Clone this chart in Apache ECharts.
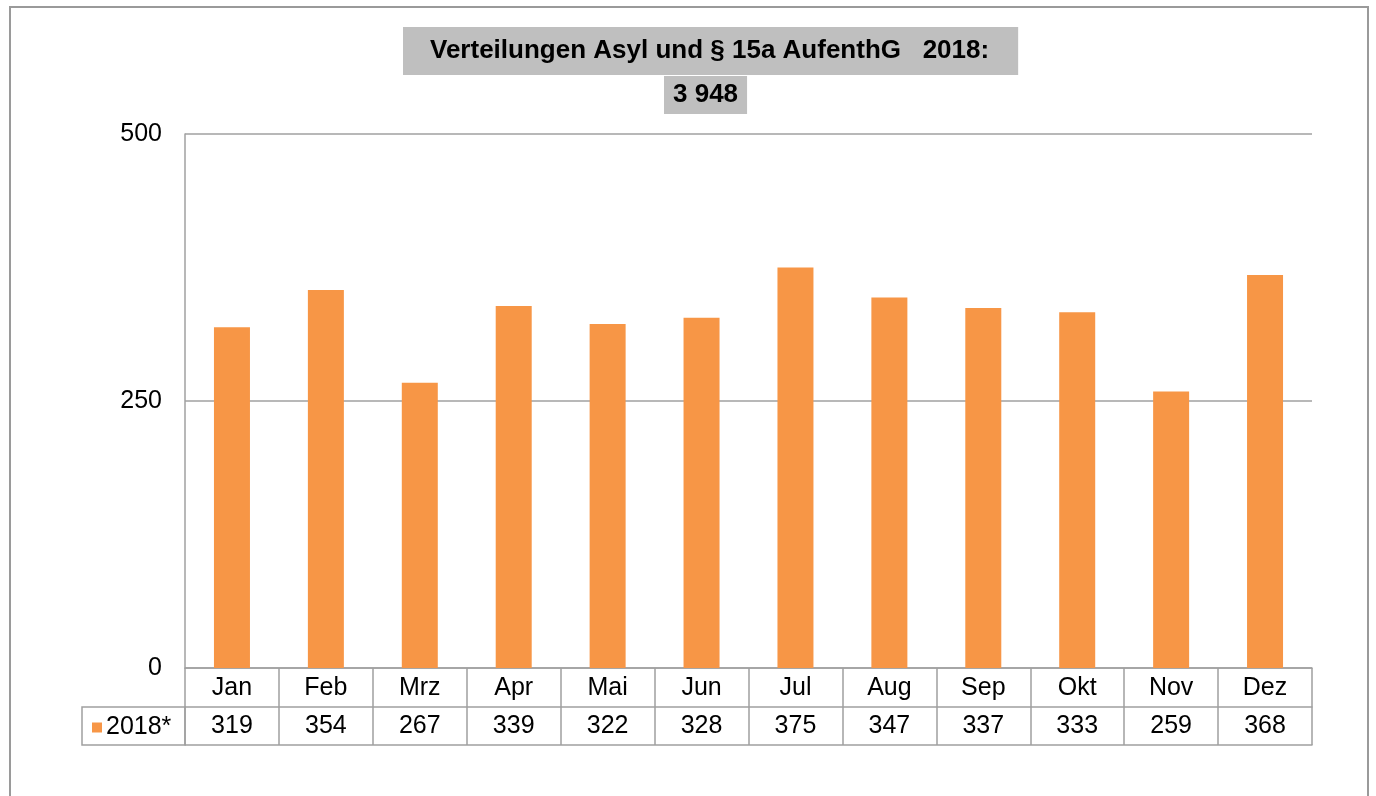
<!DOCTYPE html>
<html>
<head>
<meta charset="utf-8">
<script src="https://cdn.jsdelivr.net/npm/echarts@6/dist/echarts.min.js"></script>
<style>
html,body{margin:0;padding:0;background:#fff;}
#frame{position:absolute;left:9px;top:6px;width:1360px;height:820px;border:2px solid #9a9a9a;box-sizing:border-box;}
#chart{position:absolute;left:0;top:0;width:1376px;height:796px;}
</style>
</head>
<body>
<div id="frame"></div>
<div id="chart"></div>
<script>
const categories = ['Jan','Feb','Mrz','Apr','Mai','Jun','Jul','Aug','Sep','Okt','Nov','Dez'];
const values2018 = [319,354,267,339,322,328,375,347,337,333,259,368];
const seriesName = '2018*';
const titleLine1 = 'Verteilungen Asyl und § 15a AufenthG   2018:';
const titleLine2 = '3 948';
const yTicks = [0,250,500];

const FONT = "'Liberation Sans', Arial, sans-serif";
const LINE = '#A0A0A0';
const chart = echarts.init(document.getElementById('chart'), null, {renderer:'canvas'});

chart.setOption({
  backgroundColor: 'transparent',
  animation: false,
  textStyle: {fontFamily: FONT},
  title: [
    {text: titleLine1, left: 403, top: 27, padding: [11, 29, 11, 27], backgroundColor: '#BFBFBF',
     textStyle: {fontFamily: FONT, fontSize: 26, fontWeight: 'bold', color: '#000', lineHeight: 26}},
    {text: titleLine2, left: 664, top: 76, padding: [6, 9, 6, 9], backgroundColor: '#BFBFBF',
     textStyle: {fontFamily: FONT, fontSize: 26, fontWeight: 'bold', color: '#000', lineHeight: 26}}
  ],
  legend: {
    data: [seriesName], left: 87, top: 710, itemWidth: 10, itemHeight: 10, itemGap: 5,
    icon: 'rect', textStyle: {fontFamily: FONT, fontSize: 25, color: '#000', padding: [0,0,0,-1]}
  },
  grid: [
    {left: 185, right: 64, top: 134, bottom: 128},
    {left: 82, top: 707, width: 103, height: 38, show: true, borderColor: LINE, borderWidth: 1.5, backgroundColor: 'transparent'}
  ],
  xAxis: [
    {type: 'category', data: categories, gridIndex: 0,
     axisLine: {lineStyle: {color: LINE, width: 1.5}},
     axisTick: {show: true, interval: 0, length: 77, lineStyle: {color: LINE, width: 1.5}},
     axisLabel: {interval: 0, margin: 1,
       formatter: function (v, i) { return '{m|' + v + '}\n{v|' + values2018[i] + '}'; },
       rich: {
         m: {fontFamily: FONT, fontSize: 25, color: '#000', lineHeight: 38, height: 38},
         v: {fontFamily: FONT, fontSize: 25, color: '#000', lineHeight: 38, height: 38}
       }}},
    {type: 'category', data: categories, gridIndex: 0, position: 'bottom', offset: 39,
     axisLine: {lineStyle: {color: LINE, width: 1.5}}, axisTick: {show: false}, axisLabel: {show: false}},
    {type: 'category', data: categories, gridIndex: 0, position: 'bottom', offset: 77,
     axisLine: {lineStyle: {color: LINE, width: 1.5}}, axisTick: {show: false}, axisLabel: {show: false}},
    {type: 'category', data: [''], gridIndex: 1, show: false}
  ],
  yAxis: [
    {type: 'value', gridIndex: 0, min: yTicks[0], max: yTicks[yTicks.length-1], interval: yTicks[1]-yTicks[0],
     axisLine: {show: true, lineStyle: {color: LINE, width: 1.5}},
     axisTick: {show: false},
     axisLabel: {fontFamily: FONT, fontSize: 25, color: '#000', margin: 23},
     splitLine: {show: true, lineStyle: {color: LINE, width: 1.5}}},
    {type: 'value', gridIndex: 1, show: false}
  ],
  series: [
    {name: seriesName, type: 'bar', xAxisIndex: 0, yAxisIndex: 0, data: values2018,
     barWidth: 36, itemStyle: {color: '#F79646'}}
  ]
});
</script>
</body>
</html>
